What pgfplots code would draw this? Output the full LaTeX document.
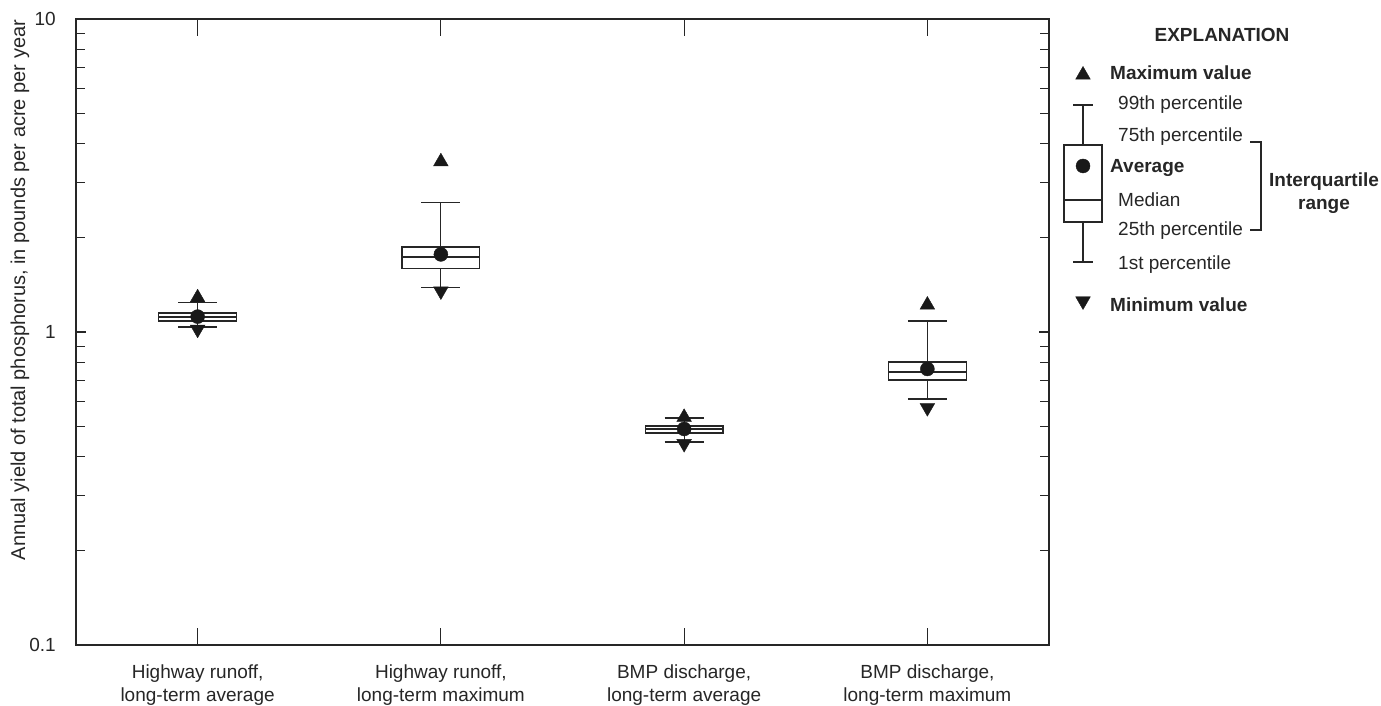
\documentclass[border=0pt]{standalone}
\usepackage{pgfplots}
\pgfplotsset{compat=1.18}
\usepackage{fontspec}
\setmainfont{Liberation Sans}

\newcommand{\lblfont}{\fontsize{19bp}{23bp}\selectfont}
\pgfplotsset{bx/.style={draw=black!85, line width=1.2bp, mark=none}}

\begin{document}
\begin{tikzpicture}
\useasboundingbox (0,0) rectangle (1381bp,706bp);

% Main panel: annual yields on a log scale
\begin{axis}[
  at={(76bp,61bp)}, anchor=south west,
  scale only axis, width=973bp, height=626bp,
  ymode=log, ymin=0.1, ymax=10,
  xmin=-0.5, xmax=3.5,
  axis line style={line width=1.3bp, black!85},
  every tick/.style={line width=1.2bp, black!85},
  tick align=inside,
  major tick length=10bp, minor tick length=9bp,
  xtick={0,1,2,3},
  xtick style={/pgfplots/major tick length=17bp},
  xticklabels={{Highway runoff,\\long-term average},
               {Highway runoff,\\long-term maximum},
               {BMP discharge,\\long-term average},
               {BMP discharge,\\long-term maximum}},
  xticklabel style={font=\lblfont, align=center, inner sep=0pt, yshift=-20bp, text=black!85},
  ytick={0.1,1,10},
  yticklabels={0.1,1,10},
  minor ytick={0.2,0.3,0.4,0.5,0.6,0.7,0.8,0.9,2,3,4,5,6,7,8,9},
  yticklabel style={font=\lblfont, inner sep=0pt, xshift=-20bp, text=black!85},
  ylabel={Annual yield of total phosphorus, in pounds per acre per year},
  ylabel style={font=\fontsize{20bp}{24bp}\selectfont, at={(axis description cs:-0.0576,0.567)}, anchor=center, text=black!85},
  clip=false,
]
% Highway runoff, long-term average (1st, 25th, median, 75th, 99th percentiles)
\addplot[bx] coordinates {(0,1.037) (0,1.24)};
\addplot[bx] coordinates {(-0.08,1.037) (0.08,1.037)};
\addplot[bx] coordinates {(-0.08,1.24) (0.08,1.24)};
\addplot[bx, fill=white] coordinates {(-0.16,1.084) (0.16,1.084) (0.16,1.15) (-0.16,1.15)} -- cycle;
\addplot[bx] coordinates {(-0.16,1.117) (0.16,1.117)};
% Highway runoff, long-term maximum
\addplot[bx] coordinates {(1,1.39) (1,2.60)};
\addplot[bx] coordinates {(0.92,1.39) (1.08,1.39)};
\addplot[bx] coordinates {(0.92,2.60) (1.08,2.60)};
\addplot[bx, fill=white] coordinates {(0.84,1.60) (1.16,1.60) (1.16,1.87) (0.84,1.87)} -- cycle;
\addplot[bx] coordinates {(0.84,1.736) (1.16,1.736)};
% BMP discharge, long-term average
\addplot[bx] coordinates {(2,0.445) (2,0.531)};
\addplot[bx] coordinates {(1.92,0.445) (2.08,0.445)};
\addplot[bx] coordinates {(1.92,0.531) (2.08,0.531)};
\addplot[bx, fill=white] coordinates {(1.84,0.476) (2.16,0.476) (2.16,0.501) (1.84,0.501)} -- cycle;
\addplot[bx] coordinates {(1.84,0.49) (2.16,0.49)};
% BMP discharge, long-term maximum
\addplot[bx] coordinates {(3,0.611) (3,1.084)};
\addplot[bx] coordinates {(2.92,0.611) (3.08,0.611)};
\addplot[bx] coordinates {(2.92,1.084) (3.08,1.084)};
\addplot[bx, fill=white] coordinates {(2.84,0.703) (3.16,0.703) (3.16,0.802) (2.84,0.802)} -- cycle;
\addplot[bx] coordinates {(2.84,0.745) (3.16,0.745)};
% averages
\addplot[only marks, mark=*, mark size=7bp, black!90] coordinates {
  (0,1.12) (1,1.77) (2,0.49) (3,0.762)};
% maxima
\addplot[only marks, mark=triangle*, mark size=8.5bp, black!90] coordinates {
  (0,1.287) (1,3.50) (2,0.534) (3,1.22)};
% minima
\addplot[only marks, mark=triangle*, mark size=8.5bp, black!90, mark options={rotate=180}] coordinates {
  (0,1.02) (1,1.352) (2,0.44) (3,0.573)};
\end{axis}

% Explanation panel, in picture units
\begin{axis}[
  at={(0bp,0bp)}, anchor=south west,
  scale only axis, width=1381bp, height=706bp,
  xmin=0, xmax=1381, ymin=-706, ymax=0,
  hide axis, clip=false,
]
\addplot[bx] coordinates {(1083,-262) (1083,-105)};
\addplot[bx] coordinates {(1073,-262) (1093,-262)};
\addplot[bx] coordinates {(1073,-105) (1093,-105)};
\addplot[bx, fill=white] coordinates {(1064,-222) (1102,-222) (1102,-145) (1064,-145)} -- cycle;
\addplot[bx] coordinates {(1064,-200) (1102,-200)};
\addplot[only marks, mark=*, mark size=7bp, black!90] coordinates {(1083,-166)};
\addplot[only marks, mark=triangle*, mark size=8.5bp, black!90] coordinates {(1083,-75)};
\addplot[only marks, mark=triangle*, mark size=8.5bp, black!90, mark options={rotate=180}] coordinates {(1083,-301)};
\addplot[bx] coordinates {(1250,-142) (1261,-142) (1261,-230) (1250,-230)};

\node[font=\lblfont\bfseries, text=black!85] at (axis cs:1222,-35) {EXPLANATION};
\begin{scope}[every node/.style={font=\lblfont, anchor=west, inner sep=0pt, text=black!85}]
\node[font=\lblfont\bfseries] at (axis cs:1110,-73) {Maximum value};
\node at (axis cs:1118,-105) {99th percentile};
\node at (axis cs:1118,-137) {75th percentile};
\node[font=\lblfont\bfseries] at (axis cs:1110,-168) {Average};
\node at (axis cs:1118,-200) {Median};
\node at (axis cs:1118,-231) {25th percentile};
\node at (axis cs:1118,-265) {1st percentile};
\node[font=\lblfont\bfseries] at (axis cs:1110,-305) {Minimum value};
\end{scope}
\node[font=\lblfont\bfseries, align=center, text=black!85] at (axis cs:1324,-193) {Interquartile\\range};
\end{axis}
\end{tikzpicture}
\end{document}
